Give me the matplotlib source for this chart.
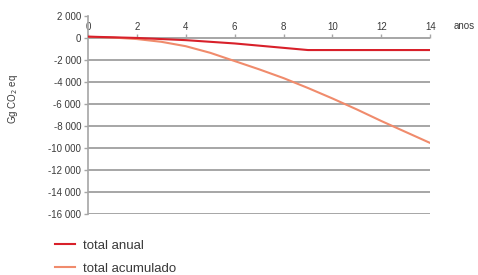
import matplotlib.pyplot as plt

plt.rcParams['font.family'] = ['Liberation Sans', 'DejaVu Sans']

years = [0, 1, 2, 3, 4, 5, 6, 7, 8, 9, 10, 11, 12, 13, 14]
total_anual = [120, 60, 0, -100, -200, -350, -500, -700, -900, -1100,
               -1100, -1100, -1100, -1100, -1100]
total_acumulado = [100, 40, -100, -350, -750, -1350, -2100, -2850, -3650, -4550,
                   -5500, -6500, -7550, -8550, -9550]

y_ticks = [2000, 0, -2000, -4000, -6000, -8000, -10000, -12000, -14000, -16000]
x_ticks = [0, 2, 4, 6, 8, 10, 12, 14]

grey = '#a6a6a6'
text_col = '#3a3a3a'

fig = plt.figure(figsize=(4.78, 2.75), dpi=100)
ax = fig.add_axes([0.184, 0.222, 0.716, 0.72])

# horizontal grid lines, only from 0 down
for v in y_ticks:
    if v <= 0:
        ax.plot([0, 14], [v, v], color=grey, lw=1.4, zorder=1, solid_capstyle='butt')

ax.plot(years, total_anual, color='#d8202a', lw=1.5, label='total anual', zorder=3)
ax.plot(years, total_acumulado, color='#f08b6c', lw=1.5, label='total acumulado', zorder=2)

ax.set_xlim(0, 14)
ax.set_ylim(-16000, 2000)
ax.set_xticks(x_ticks)
ax.set_yticks(y_ticks)
ax.set_yticklabels([f"{v:,}".replace(",", " ") for v in y_ticks])

ax.xaxis.set_ticks_position('top')
ax.spines['top'].set_position(('data', 0))
ax.spines['top'].set_visible(False)
ax.spines['right'].set_visible(False)
ax.spines['bottom'].set_visible(False)
ax.spines['left'].set_color(grey)
ax.spines['left'].set_linewidth(1.2)
ax.tick_params(axis='both', colors=grey, labelcolor=text_col, labelsize=7,
               length=3, width=1, pad=2)
ax.tick_params(axis='x', direction='out', pad=1)

ax.text(1.1, 1050, 'anos', transform=ax.get_yaxis_transform(), fontsize=7,
        color=text_col, va='center', ha='center')
fig.text(0.027, 0.64, 'Gg CO$_2$ eq', rotation=90, fontsize=7, color=text_col,
         ha='center', va='center')

fig.legend(loc='upper left', bbox_to_anchor=(0.104, 0.149), frameon=False,
           fontsize=9.5, handlelength=1.55, labelspacing=0.85, handletextpad=0.6,
           labelcolor=text_col, borderaxespad=0)

fig.savefig('out.png', dpi=100)
